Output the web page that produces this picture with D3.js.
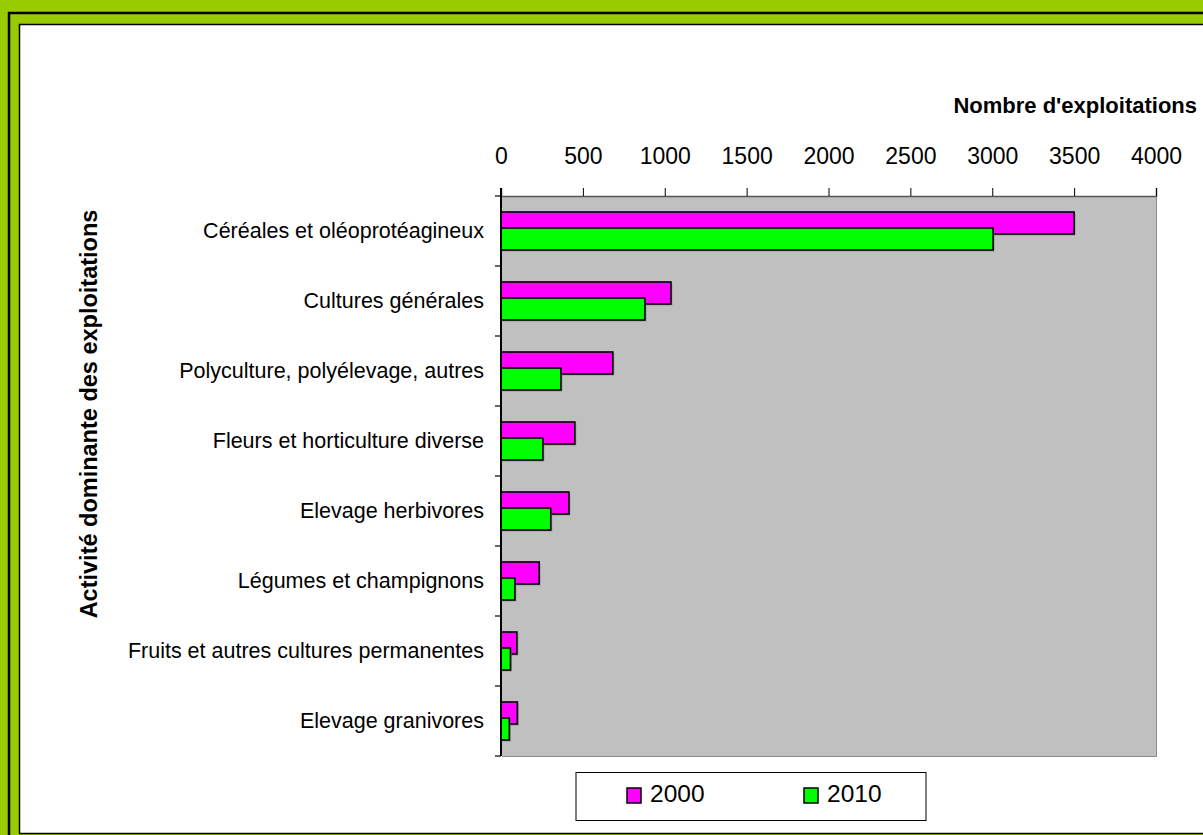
<!DOCTYPE html>
<html>
<head>
<meta charset="utf-8">
<script src="https://cdn.jsdelivr.net/npm/d3@7"></script>
<style>
  body { margin: 0; background: #99cc00; }
  svg { display: block; font-family: "Liberation Sans", Arial, sans-serif; }
</style>
</head>
<body>
<svg id="chart"></svg>
<script>
const categories = [
  "Céréales et oléoprotéagineux",
  "Cultures générales",
  "Polyculture, polyélevage, autres",
  "Fleurs et horticulture diverse",
  "Elevage herbivores ",
  "Légumes et champignons",
  "Fruits et autres cultures permanentes",
  "Elevage granivores "
];
const values2000 = [3500, 1038, 683, 451, 415, 233, 97, 100];
const values2010 = [3005, 879, 366, 256, 304, 85, 58, 51];
const seriesNames = ["2000", "2010"];
const seriesColors = ["#ff00ff", "#00ff00"];
const xTicks = [0, 500, 1000, 1500, 2000, 2500, 3000, 3500, 4000];

const width = 1203;
const height = 835;
const plot = { left: 501, right: 1156, top: 196, bottom: 756 };

const svg = d3.select("#chart")
    .attr("width", width)
    .attr("height", height);

// frame
svg.append("rect").attr("width", width).attr("height", height).attr("fill", "#99cc00");
svg.append("rect")
    .attr("x", 9).attr("y", 13).attr("width", 1400).attr("height", 1000)
    .attr("fill", "none").attr("stroke", "#000").attr("stroke-width", 2.5);
svg.append("rect")
    .attr("x", 19.5).attr("y", 24.5).attr("width", 1400).attr("height", 809)
    .attr("fill", "#fff").attr("stroke", "#000").attr("stroke-width", 1.5);

const x = d3.scaleLinear()
    .domain([0, 4000])
    .range([plot.left, plot.right]);

const y = d3.scaleBand()
    .domain(categories)
    .range([plot.top, plot.bottom]);

// plot background with shadow edge
svg.append("rect")
    .attr("x", plot.left + 1).attr("y", plot.top + 1)
    .attr("width", plot.right - plot.left).attr("height", plot.bottom - plot.top)
    .attr("fill", "#8c8c8c");
svg.append("rect")
    .attr("x", plot.left).attr("y", plot.top)
    .attr("width", plot.right - plot.left).attr("height", plot.bottom - plot.top)
    .attr("fill", "#c0c0c0");

// bars
const barH = 22;
const offsets = [16, 32];
const series = [values2000, values2010];

series.forEach((vals, s) => {
  const g = svg.append("g");
  // shadow
  g.selectAll("rect.shadow")
    .data(vals)
    .join("rect")
    .attr("class", "shadow")
    .attr("x", plot.left + 1.5)
    .attr("y", (d, i) => y(categories[i]) + offsets[s] + 1.5)
    .attr("width", d => x(d) - plot.left)
    .attr("height", barH)
    .attr("fill", "#808080")
    .attr("opacity", 0.6);
  g.selectAll("rect.bar")
    .data(vals)
    .join("rect")
    .attr("class", "bar")
    .attr("x", plot.left)
    .attr("y", (d, i) => y(categories[i]) + offsets[s])
    .attr("width", d => x(d) - plot.left)
    .attr("height", barH)
    .attr("fill", seriesColors[s])
    .attr("stroke", "#000")
    .attr("stroke-width", 1.6);
});

// top axis
const xAxis = svg.append("g")
    .attr("transform", `translate(0,${plot.top})`)
    .call(d3.axisTop(x).tickValues(xTicks).tickSize(8).tickPadding(24).tickFormat(d3.format("d")));
xAxis.select(".domain").attr("stroke", "#555").attr("stroke-width", 1.5);
xAxis.selectAll(".tick line").attr("stroke", "#000");
xAxis.selectAll(".tick text")
    .attr("font-size", 23)
    .attr("fill", "#000")
    .attr("font-family", "Liberation Sans, Arial, sans-serif");

// left axis
const yEdges = categories.map(c => y(c)).concat([plot.bottom]);
svg.append("g").selectAll("line")
    .data(yEdges)
    .join("line")
    .attr("x1", plot.left - 6).attr("x2", plot.left)
    .attr("y1", d => d).attr("y2", d => d)
    .attr("stroke", "#000").attr("stroke-width", 1.2);
svg.append("line")
    .attr("x1", plot.left).attr("x2", plot.left)
    .attr("y1", plot.top - 8).attr("y2", plot.bottom)
    .attr("stroke", "#000").attr("stroke-width", 2);

svg.append("g").selectAll("text")
    .data(categories)
    .join("text")
    .attr("x", 484)
    .attr("y", d => y(d) + y.bandwidth() / 2 + 7)
    .attr("text-anchor", "end")
    .attr("font-size", 21.5)
    .attr("fill", "#000")
    .text(d => d);

// axis titles
svg.append("text")
    .attr("x", 1197).attr("y", 113)
    .attr("text-anchor", "end")
    .attr("font-size", 22)
    .attr("font-weight", "bold")
    .text("Nombre d'exploitations");

// the vertical title is cut off at the top in the original
svg.append("clipPath").attr("id", "ytitle-clip")
  .append("rect").attr("x", 40).attr("y", 205).attr("width", 100).attr("height", 500);

svg.append("g")
    .attr("clip-path", "url(#ytitle-clip)")
  .append("text")
    .attr("transform", "translate(97,414) rotate(-90)")
    .attr("text-anchor", "middle")
    .attr("font-size", 23.5)
    .attr("font-weight", "bold")
    .text("Activité dominante des exploitations");

// legend
const legend = svg.append("g");
legend.append("rect")
    .attr("x", 576).attr("y", 772.5).attr("width", 350).attr("height", 48)
    .attr("fill", "#fff").attr("stroke", "#000").attr("stroke-width", 1);
const legendX = [627, 804];
seriesNames.forEach((name, i) => {
  legend.append("rect")
    .attr("x", legendX[i]).attr("y", 788).attr("width", 14).attr("height", 15)
    .attr("fill", seriesColors[i]).attr("stroke", "#000").attr("stroke-width", 1.5);
  legend.append("text")
    .attr("x", legendX[i] + 23).attr("y", 802)
    .attr("font-size", 24.5)
    .text(name);
});
</script>
</body>
</html>
